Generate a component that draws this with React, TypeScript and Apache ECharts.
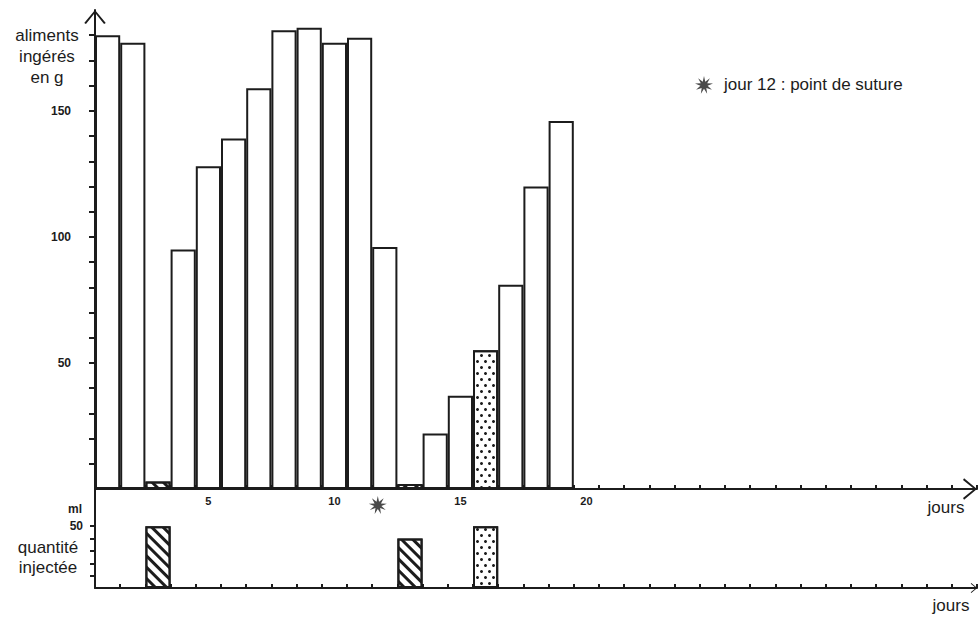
import React, { useEffect, useRef } from "react";
import * as echarts from "echarts";

// ---- data ----
const days = [
  "1", "2", "3", "4", "5", "6", "7", "8", "9", "10",
  "11", "12", "13", "14", "15", "16", "17", "18", "19", "20",
  "21", "22", "23", "24", "25", "26", "27", "28", "29", "30",
  "31", "32", "33", "34", "35",
];
// aliments ingérés (g), jours 1..19
const foodGrams = [180, 177, 3, 95, 128, 139, 159, 182, 183, 177, 179, 96, 2, 22, 37, 55, 81, 120, 146];
// injections (ml)
const injectionDays = ["3", "13", "16"];
const injectionMl = [50, 40, 50];
const injectionKinds = ["hatch", "hatch", "dots"];
const sutureDay = "12";
const sutureLabel = "jour 12 : point de suture";
const xLabelDays = ["5", "10", "15", "20"];
const foodTickValues = [10, 20, 30, 40, 50, 60, 70, 80, 90, 100, 110, 120, 130, 140, 150, 160, 170, 180];
const foodLabelValues = [50, 100, 150];
const mlTickValues = [10, 20, 30, 40, 50];
const mlLabelValues = [50];

// ---- styles ----
const INK = "#1c1c1c";
const FONT = "'Liberation Sans', Arial, sans-serif";

const hatchDecal = {
  symbol: "rect",
  symbolSize: 1,
  color: INK,
  backgroundColor: "#ffffff",
  dashArrayX: [1, 0],
  dashArrayY: [3, 5],
  rotation: Math.PI / 4,
};
const dotDecal = {
  symbol: "circle",
  symbolSize: 1,
  color: INK,
  backgroundColor: "#ffffff",
  dashArrayX: [[3, 5], [0, 4, 3, 1]],
  dashArrayY: [3, 3],
  rotation: 0,
};

function starPath(): string {
  const pts: string[] = [];
  const n = 9;
  for (let i = 0; i < n * 2; i++) {
    const r = i % 2 === 0 ? 10 : 4;
    const a = (Math.PI * i) / n - Math.PI / 2;
    pts.push(`${(10 + r * Math.cos(a)).toFixed(2)},${(10 + r * Math.sin(a)).toFixed(2)}`);
  }
  return "path://M" + pts.join(" L") + " Z";
}
const STAR = starPath();
const CHEVRON = "path://M0,12 L10,0 L20,12 L18.4,13 L10,2.6 L1.6,13 Z";

function kindStyle(day: string) {
  const k = injectionDays.indexOf(day);
  if (k < 0) return undefined;
  return { decal: injectionKinds[k] === "dots" ? dotDecal : hatchDecal };
}

export default function App() {
  const ref = useRef<HTMLDivElement>(null);

  useEffect(() => {
    if (!ref.current) return;
    const chart = echarts.init(ref.current, undefined, { renderer: "svg" });

    const barBase = { color: "#ffffff", borderColor: INK, borderWidth: 2 };

    const topData = foodGrams.map((v, i) => {
      const extra = kindStyle(days[i]);
      return { value: v, itemStyle: extra ? { ...barBase, ...extra } : barBase };
    });
    const bottomData = days.map((d) => {
      const k = injectionDays.indexOf(d);
      if (k < 0) return "-";
      return { value: injectionMl[k], itemStyle: { ...barBase, ...kindStyle(d) } };
    });

    const axisLineStyle = { color: INK, width: 2 };
    const tickLabel = { color: INK, fontWeight: "bold", fontSize: 12, fontFamily: FONT };

    chart.setOption({
      animation: false,
      backgroundColor: "#ffffff",
      legend: {
        data: [{ name: sutureLabel, icon: STAR }],
        left: 690,
        top: 71,
        itemWidth: 18,
        itemHeight: 18,
        itemGap: 10,
        selectedMode: false,
        textStyle: { color: INK, fontSize: 17, fontFamily: FONT, padding: [0, 0, 0, 6] },
      },
      grid: [
        { left: 95, top: 10, width: 882, height: 479 },
        { left: 95, top: 489, width: 882, height: 99 },
      ],
      xAxis: [
        {
          type: "category",
          gridIndex: 0,
          data: days,
          boundaryGap: true,
          axisLine: {
            show: true,
            lineStyle: axisLineStyle,
            symbol: ["none", CHEVRON],
            symbolSize: [22, 14],
            symbolOffset: [0, -7],
          },
          axisTick: { show: true, inside: true, length: 4, interval: 0, lineStyle: { color: INK, width: 2 } },
          axisLabel: {
            ...tickLabel,
            fontSize: 11,
            margin: 6,
            interval: (_i: number, v: string) => xLabelDays.includes(v),
          },
          splitLine: { show: false },
        },
        {
          type: "category",
          gridIndex: 1,
          data: days,
          boundaryGap: true,
          axisLine: {
            show: true,
            lineStyle: axisLineStyle,
            symbol: ["none", CHEVRON],
            symbolSize: [10, 7],
            symbolOffset: [0, -3],
          },
          axisTick: { show: true, inside: true, length: 4, interval: 0, lineStyle: { color: INK, width: 2 } },
          axisLabel: { show: false },
          splitLine: { show: false },
        },
      ],
      yAxis: [
        {
          type: "value",
          gridIndex: 0,
          min: 0,
          max: 190,
          interval: 10,
          axisLine: {
            show: true,
            lineStyle: axisLineStyle,
            symbol: ["none", CHEVRON],
            symbolSize: [22, 14],
            symbolOffset: [0, -7],
          },
          axisTick: { show: true, length: 6, customValues: foodTickValues, lineStyle: { color: INK, width: 2 } },
          axisLabel: { ...tickLabel, margin: 24, customValues: foodLabelValues },
          splitLine: { show: false },
        },
        {
          type: "value",
          gridIndex: 1,
          min: 0,
          max: 80,
          interval: 10,
          axisLine: { show: true, lineStyle: axisLineStyle },
          axisTick: { show: true, length: 5, customValues: mlTickValues, lineStyle: { color: INK, width: 2 } },
          axisLabel: { ...tickLabel, margin: 12, customValues: mlLabelValues },
          splitLine: { show: false },
        },
      ],
      graphic: [
        {
          type: "text",
          style: {
            text: "aliments\ningérés\nen g",
            x: 47,
            y: 25,
            textAlign: "center",
            fill: INK,
            fontSize: 17,
            lineHeight: 21,
            fontFamily: FONT,
          },
        },
        {
          type: "text",
          style: {
            text: "ml",
            x: 82,
            y: 509,
            textAlign: "right",
            textVerticalAlign: "middle",
            fill: INK,
            fontSize: 12,
            fontWeight: "bold",
            fontFamily: FONT,
          },
        },
        {
          type: "text",
          style: {
            text: "quantité\ninjectée",
            x: 48,
            y: 537,
            textAlign: "center",
            fill: INK,
            fontSize: 17,
            lineHeight: 20,
            fontFamily: FONT,
          },
        },
        {
          type: "text",
          style: { text: "jours", x: 946, y: 507, textAlign: "center", textVerticalAlign: "middle", fill: INK, fontSize: 17, fontFamily: FONT },
        },
        {
          type: "text",
          style: { text: "jours", x: 951, y: 605, textAlign: "center", textVerticalAlign: "middle", fill: INK, fontSize: 17, fontFamily: FONT },
        },
      ],
      series: [
        {
          type: "bar",
          name: "aliments ingérés",
          xAxisIndex: 0,
          yAxisIndex: 0,
          data: topData,
          barWidth: "100%",
          barCategoryGap: "0%",
        },
        {
          type: "bar",
          name: "quantité injectée",
          xAxisIndex: 1,
          yAxisIndex: 1,
          data: bottomData,
          barWidth: "100%",
          barCategoryGap: "0%",
        },
        {
          type: "scatter",
          name: sutureLabel,
          xAxisIndex: 0,
          yAxisIndex: 0,
          data: [[sutureDay, 0]],
          symbol: STAR,
          symbolSize: 18,
          symbolOffset: [-7, 16],
          clip: false,
          z: 10,
          itemStyle: { color: INK },
        },
      ],
    });

    return () => chart.dispose();
  }, []);

  return (
    <div
      ref={ref}
      style={{ position: "fixed", left: 0, top: 0, width: 980, height: 618, background: "#fff" }}
    />
  );
}
